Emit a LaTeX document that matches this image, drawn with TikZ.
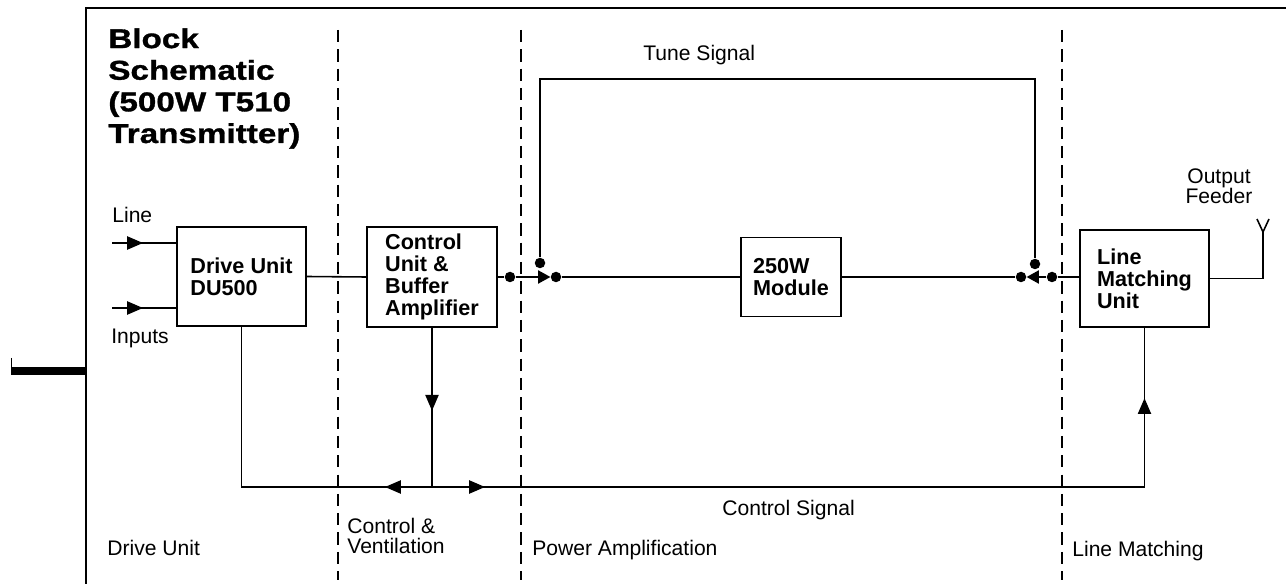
\documentclass[tikz,border=0pt]{standalone}
\usepackage{fontspec}
\setmainfont{Liberation Sans}
\newfontfamily\titlefont{Liberation Sans}[FakeStretch=1.22,FakeBold=1.2]
\usetikzlibrary{arrows.meta,decorations.markings}

\tikzset{
  unit/.style={draw, line width=0.9pt, align=left, inner sep=0pt,
    font=\bfseries\fontsize{12.3}{12.5}\selectfont},
  wire/.style={line width=0.9pt},
  zone/.style={line width=0.8pt, dash pattern=on 7pt off 4pt},
  dot/.style={circle, fill, inner sep=0pt, minimum size=0.21cm},
  txt/.style={inner sep=0pt, font=\fontsize{12}{11.5}\selectfont},
  arrowat/.style={postaction={decorate, decoration={markings,
    mark=at position #1 with {\arrow{Triangle[length=9pt,width=7.5pt]}}}}},
  switchtip/.style={-{Triangle[length=7pt,width=7.5pt]}}
}

\begin{document}
\begin{tikzpicture}[x=0.02cm, y=-0.02cm]
  \useasboundingbox (0,0) rectangle (1286,584);
  % frame
  \draw[wire] (1286,8) -- (86,8) -- (86,584);
  \fill (11,367) rectangle (86,375);
  \draw[line width=0.5pt] (11,358) -- (11,367);

  % zone boundaries
  \foreach \x in {338,521,1062}
    \draw[zone] (\x,30) -- (\x,580);

  % title
  \node[anchor=north west, align=left, inner sep=0pt,
    font=\titlefont\bfseries\fontsize{15.5}{18}\selectfont] (title) at (108,28)
    {Block\\Schematic\\(500W T510\\Transmitter)};

  % units
  \node[unit, minimum width=2.58cm, minimum height=1.98cm] (drive) at (241.5,276.5) {Drive Unit\\DU500};
  \node[unit, minimum width=2.6cm, minimum height=2cm] (ctrl) at (432,277) {Control\\Unit \&\\Buffer\\Amplifier};
  \node[unit, minimum width=2cm, minimum height=1.58cm] (module) at (791,277) {250W\\Module};
  \node[unit, minimum width=2.58cm, minimum height=1.94cm] (lmu) at (1144.5,278.5) {Line\\Matching\\Unit};

  % switch contacts
  \node[dot] (d1) at (510,277) {};
  \node[dot] (d2) at (556,277) {};
  \node[dot] (u1) at (540,263) {};
  \node[dot] (d3) at (1021,277) {};
  \node[dot] (d4) at (1052,277) {};
  \node[dot] (u2) at (1035,264) {};

  \coordinate (lin) at (112,243);
  \coordinate (inp) at (112,308);
  \coordinate (tune) at (0,79);
  \coordinate (bus) at (0,487);
  \coordinate (ant) at (1263,232);

  % signal path
  \draw[wire, arrowat=0.62cm] (lin) -- (lin -| drive.west);
  \draw[wire, arrowat=0.62cm] (inp) -- (inp -| drive.west);
  \draw[wire] (drive.east) -- (ctrl.west);
  \draw[wire] (ctrl.east) -- (d1);
  \draw[wire, switchtip] (d1) -- (d2);
  \draw[wire] (d2) -- (module.west);
  \draw[wire] (module.east) -- (d3);
  \draw[wire, switchtip] (d4) -- (d3);
  \draw[wire] (d4) -- (d4 -| lmu.west);
  \draw[wire] (u1) -- (u1 |- tune) -- (u2 |- tune) -- (u2);

  % output feeder
  \draw[wire] (lmu.east) -- (lmu.east -| ant) -- (ant);
  \draw[wire] (ant) -- ++(-6,-13) (ant) -- ++(6,-13);

  % control bus
  \draw[wire, arrowat=1.66cm] (ctrl.south) -- (ctrl.south |- bus);
  \draw[wire, arrowat=0.94cm] (ctrl.south |- bus) -- (drive.south |- bus) -- (drive.south);
  \draw[wire, arrowat=1.06cm, arrowat=16.03cm] (ctrl.south |- bus) -- (lmu.south |- bus) -- (lmu.south);

  % labels
  \node[txt, anchor=base west] (tline) at (112,223) {Line};
  \node[txt, anchor=base west] (tinputs) at (111,344) {Inputs};
  \node[txt, anchor=base west] (ttune) at (643,61) {Tune Signal};
  \node[txt, anchor=north, align=center] (tout) at (1219,168) {Output\\Feeder};
  \node[txt, anchor=base west] (tcontrol) at (722,516) {Control Signal};
  \node[txt, anchor=base west] (zdrive) at (107,556) {Drive Unit};
  \node[txt, anchor=north west, align=left] (zcontrol) at (347,518) {Control \&\\Ventilation};
  \node[txt, anchor=base west] (zpower) at (532,556) {Power Amplification};
  \node[txt, anchor=base west] (zline) at (1072,557) {Line Matching};
\end{tikzpicture}
\end{document}
